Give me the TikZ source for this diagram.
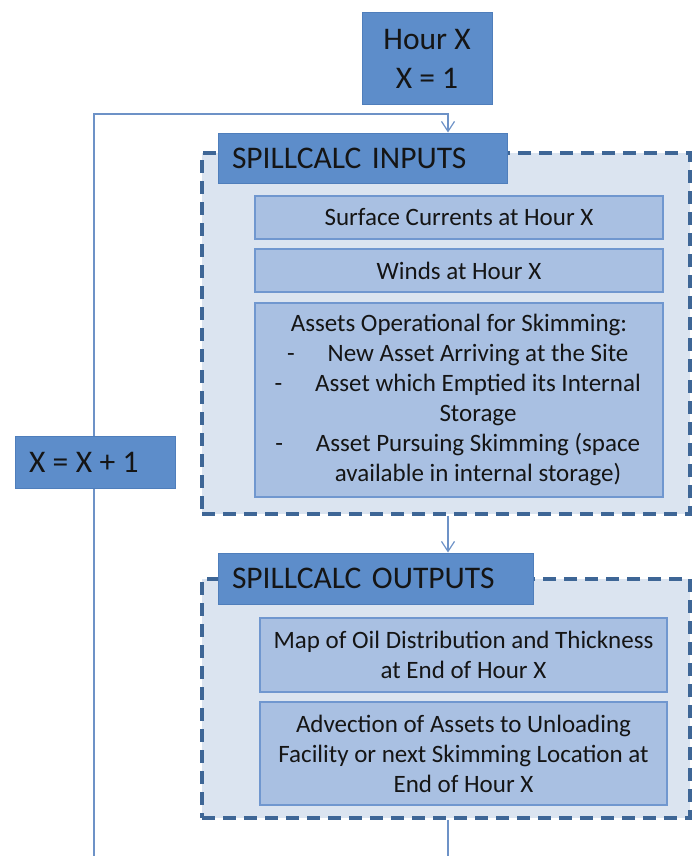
\documentclass[tikz,border=0pt]{standalone}
\usepackage{fontspec}
\setmainfont{Carlito}
\usetikzlibrary{arrows.meta,backgrounds}

\definecolor{hdrfill}{HTML}{5D8DCA}
\definecolor{hdrline}{HTML}{4F7EBB}
\definecolor{cellfill}{HTML}{A9C0E2}
\definecolor{cellline}{HTML}{7097CF}
\definecolor{groupfill}{HTML}{DBE4F0}
\definecolor{groupline}{HTML}{3E6696}
\definecolor{flow}{HTML}{6D92C7}
\definecolor{ink}{HTML}{151515}

\begin{document}
\begin{tikzpicture}[x=1pt,y=-1pt,
  hdr/.style={draw=hdrline, line width=1pt, fill=hdrfill, text=ink,
    font=\fontsize{31.5}{38.6}\selectfont, inner sep=0pt},
  cell/.style={draw=cellline, line width=1.3pt, fill=cellfill, text=ink,
    font=\fontsize{25}{30}\selectfont, align=center, inner sep=0pt},
  group/.style={draw=groupline, fill=groupfill, line width=3.2pt,
    dash pattern=on 13pt off 8pt, inner sep=0pt},
  flowline/.style={draw=flow, line width=1.4pt},
  flowarrow/.style={flowline, -{Straight Barb[length=10pt,width=13pt,line width=1.2pt]}}
]
\useasboundingbox (0,0) rectangle (694,856);

% start of the loop
\node[hdr, align=center, minimum width=130, minimum height=92] (start) at (427,59) {Hour X\\X = 1};

% input group
\node[group, minimum width=488, minimum height=361] (ingroup) at (446,333.5) {};
\node[hdr, align=left, text width=261, inner xsep=14pt, minimum height=50] (inhead) at (362.5,158) {SPILLCALC INPUTS};
\node[cell, minimum width=408, minimum height=43] (currents) at (459,217.5) {Surface Currents at Hour X};
\node[cell, minimum width=408, minimum height=43] (winds) at (459,270.5) {Winds at Hour X};
\node[cell, minimum width=408, minimum height=194] (assets) at (459,400) {%
  Assets Operational for Skimming:\\
  \hspace*{38pt}\llap{-\hspace{33pt}}New Asset Arriving at the Site\\
  \hspace*{38pt}\llap{-\hspace{33pt}}Asset which Emptied its Internal\\
  \hspace*{38pt}Storage\\
  \hspace*{38pt}\llap{-\hspace{33pt}}Asset Pursuing Skimming (space\\
  \hspace*{38pt}available in internal storage)};

% output group
\node[group, minimum width=488, minimum height=239] (outgroup) at (446,698.5) {};
\node[hdr, align=left, text width=287, inner xsep=14pt, minimum height=51] (outhead) at (375.5,578.5) {SPILLCALC OUTPUTS};
\node[cell, minimum width=407, minimum height=74] (oilmap) at (463.5,655) {Map of Oil Distribution and Thickness\\at End of Hour X};
\node[cell, minimum width=407, minimum height=103] (advection) at (463.5,753.5) {Advection of Assets to Unloading\\Facility or next Skimming Location at\\End of Hour X};

% counter increment on the return path
\node[hdr, align=left, text width=132, inner xsep=14pt, minimum height=52] (incr) at (95,462) {\spaceskip=7.4pt X = X + 1};

% connectors
\coordinate (spine) at (448,0);
\coordinate (loopfoot) at (94,856);
\coordinate (loopturn) at (94,114);
\coordinate (exitfoot) at (448,856);
\begin{scope}[on background layer]
  \draw[flowarrow] (loopfoot) -- (loopturn) -| (inhead.north -| spine);
  \draw[flowarrow] (ingroup.south -| spine) -- (outhead.north -| spine);
  \draw[flowline] (outgroup.south -| spine) -- (exitfoot);
\end{scope}
\end{tikzpicture}
\end{document}
